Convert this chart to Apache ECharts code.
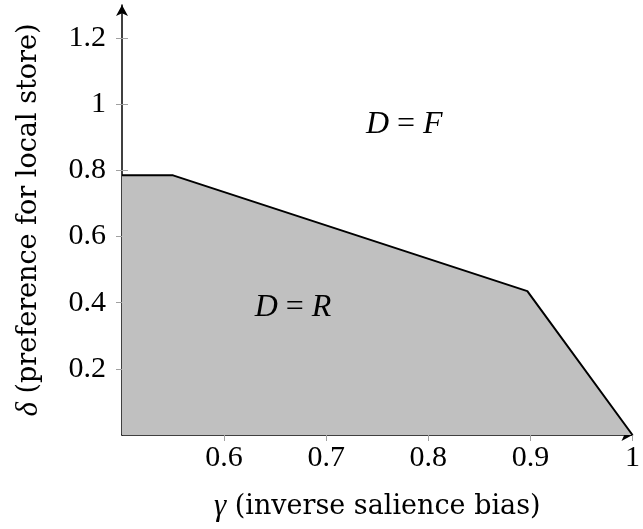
<!DOCTYPE html>
<html>
<head>
<meta charset="utf-8">
<script src="https://cdn.jsdelivr.net/npm/echarts@6/dist/echarts.min.js"></script>
<style>
html,body{margin:0;padding:0;background:#fff;}
#c{width:643px;height:529px;}
</style>
</head>
<body>
<div id="c"></div>
<script>
// boundary of region D = R
const boundaryX = [0.5, 0.55, 0.897, 1.0];
const boundaryY = [0.785, 0.785, 0.435, 0.0];
const xTicks = [0.6, 0.7, 0.8, 0.9, 1];
const yTicks = [0.2, 0.4, 0.6, 0.8, 1, 1.2];
const annotations = [
  {x: 0.7765, y: 0.939, a: 'D', b: 'F'},
  {x: 0.6675, y: 0.386, a: 'D', b: 'R'}
];

const FONT = 'Liberation Serif';
const NFONT = 'DejaVu Serif';
const FS = 30;
const NFS = 27;
const chart = echarts.init(document.getElementById('c'), null, {renderer: 'canvas'});
const tickStyle = {color: '#a0a0a0', width: 1};
const nameRich = {
  i: {fontFamily: FONT, fontStyle: 'italic', fontSize: 31, color: '#000'},
  n: {fontFamily: NFONT, fontSize: NFS, color: '#000'}
};
const annRich = {
  i: {fontFamily: FONT, fontStyle: 'italic', fontSize: 32, color: '#000'},
  n: {fontFamily: FONT, fontSize: 32, color: '#000'}
};
chart.setOption({
  animation: false,
  grid: {left: 122, right: 3, top: 5, bottom: 94},
  xAxis: [{
    type: 'value', min: 0.5, max: 1,
    axisLine: {show: true, lineStyle: {color: '#000', width: 1.5}, symbol: ['none', 'arrow'], symbolSize: [9, 11]},
    axisTick: {show: true, inside: false, length: 6, lineStyle: tickStyle, customValues: xTicks},
    axisLabel: {show: true, margin: 8, fontFamily: FONT, fontSize: FS, color: '#000', customValues: xTicks, formatter: v => String(v)},
    splitLine: {show: false},
    name: '{i|γ}{n| (inverse salience bias)}',
    nameLocation: 'middle', nameGap: 56,
    nameTextStyle: {fontFamily: NFONT, fontSize: NFS, color: '#000', rich: nameRich}
  }],
  yAxis: [{
    type: 'value', min: 0, max: 1.3,
    axisLine: {show: true, lineStyle: {color: '#000', width: 1.5}, symbol: ['none', 'arrow'], symbolSize: [9, 11]},
    axisTick: {show: true, inside: false, length: 6, lineStyle: tickStyle, customValues: yTicks},
    axisLabel: {show: true, margin: 16, fontFamily: FONT, fontSize: FS, color: '#000', customValues: yTicks, formatter: v => String(v)},
    splitLine: {show: false},
    name: '{i|δ}{n| (preference for local store)}',
    nameLocation: 'middle', nameGap: 78, nameRotate: 90,
    nameTextStyle: {fontFamily: NFONT, fontSize: NFS, color: '#000', rich: nameRich}
  }, {
    type: 'value', min: 0, max: 1.3, position: 'left',
    axisLine: {show: false},
    axisTick: {show: true, inside: true, length: 6, lineStyle: tickStyle, customValues: yTicks},
    axisLabel: {show: false},
    splitLine: {show: false}
  }],
  series: [{
    type: 'line',
    data: boundaryX.map((x, i) => [x, boundaryY[i]]),
    symbol: 'none',
    lineStyle: {color: '#000', width: 2},
    areaStyle: {color: '#c0c0c0', opacity: 1, origin: 'start'},
    z: 3
  }, {
    type: 'scatter',
    data: annotations.map(d => [d.x, d.y]),
    symbolSize: 2,
    itemStyle: {color: 'rgba(0,0,0,0)'},
    label: {
      show: true, position: 'inside', color: '#000', opacity: 1,
      formatter: p => '{i|' + annotations[p.dataIndex].a + '}{n|\u00a0=\u00a0}{i|' + annotations[p.dataIndex].b + '}',
      rich: annRich
    },
    emphasis: {disabled: true},
    z: 5
  }]
});
</script>
</body>
</html>
